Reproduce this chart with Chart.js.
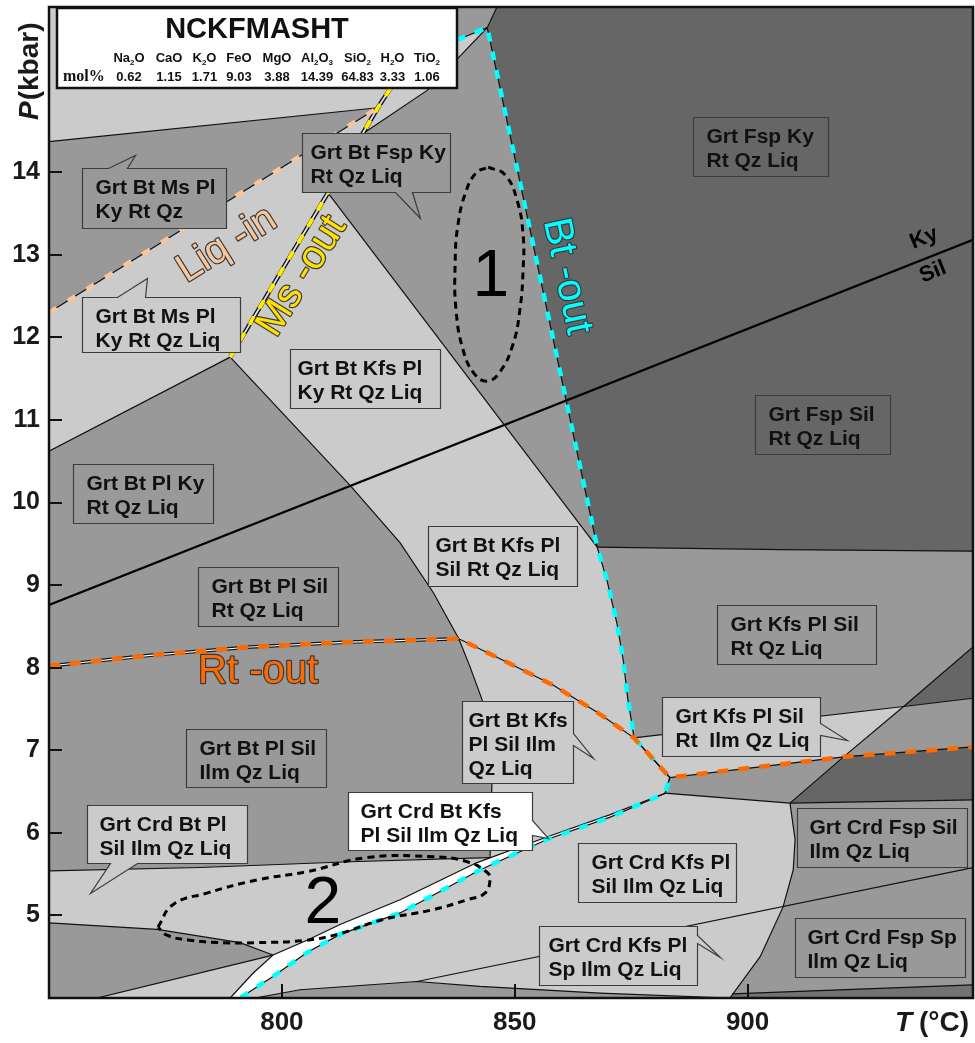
<!DOCTYPE html>
<html>
<head>
<meta charset="utf-8">
<script src="https://cdn.jsdelivr.net/npm/chart.js@4.4.0/dist/chart.umd.min.js"></script>
<style>
  html, body { margin: 0; padding: 0; background: #fff; }
  #wrap { width: 975px; height: 1043px; }
</style>
</head>
<body>
<div id="wrap"><canvas id="pt" width="975" height="1043"></canvas></div>
<script>
// axes
const tRange = [750, 948.4];
const pRange = [4, 16];
const tTicks = [800, 850, 900];
const pTicks = [5, 6, 7, 8, 9, 10, 11, 12, 13, 14];

// bulk composition, mol%
const oxides = ['Na2O', 'CaO', 'K2O', 'FeO', 'MgO', 'Al2O3', 'SiO2', 'H2O', 'TiO2'];
const molPct = ['0.62', '1.15', '1.71', '9.03', '3.88', '14.39', '64.83', '3.33', '1.06'];

// light fields, [T, P]
const fieldTopLeft = [[750, 16], [750, 14.37], [820.6, 14.78], [826.6, 15.30], [826.6, 16]];
const fieldMsLiq = [[750, 12.30], [820.6, 14.78], [809.9, 13.75], [788.9, 11.76], [750, 10.62]];
const fieldSliver = [[818.0, 14.49], [823.7, 15.02], [837.6, 15.60], [844.1, 15.75], [831.2, 14.99]];
const fieldBtKfs = [[788.9, 11.76], [809.9, 13.75], [867.7, 9.46], [869.8, 9.06], [872.0, 8.52], [873.3, 8.09],
  [874.3, 7.61], [875.2, 7.31], [875.6, 7.15], [883.3, 6.67], [882.3, 6.48], [870.5, 6.22], [856.9, 5.95],
  [844.7, 5.70], [845.1, 6.60], [844.5, 7.13], [843.0, 7.61], [840.4, 8.01], [838.0, 8.35], [832.5, 8.91],
  [825.4, 9.51], [814.6, 10.21], [800.2, 11.08]];
const fieldCrdBtPl = [[750, 5.54], [782.4, 5.58], [814.6, 5.65], [844.7, 5.70], [841.9, 5.64], [825.4, 5.19],
  [812.5, 4.89], [805.4, 4.70], [798.1, 4.52], [791.0, 4.67], [773.2, 4.83], [750, 4.91]];
const fieldLowWedge = [[760.3, 4.0], [798.1, 4.52], [793.8, 4.30], [788.9, 4.0]];
const fieldCrdKfs = [[791.0, 4.0], [798.1, 4.26], [805.4, 4.55], [812.5, 4.77], [825.4, 5.03], [842.5, 5.55],
  [856.9, 5.92], [870.5, 6.19], [882.3, 6.48], [909.1, 6.36], [910.2, 5.92], [909.8, 5.55], [907.6, 5.10],
  [902.7, 4.50], [896.2, 4.0], [868.3, 4.06], [842.5, 4.14], [829.0, 4.20], [803.9, 4.10], [794.2, 4.0]];
const fieldKfsRtIlm = [[875.6, 7.15], [933.5, 7.53], [920.6, 6.92], [883.3, 6.67]];
// narrow white field
const fieldCrdBtKfs = [[788.9, 4.0], [793.8, 4.30], [798.1, 4.52], [805.4, 4.70], [812.5, 4.89], [825.4, 5.19],
  [841.9, 5.64], [856.9, 5.95], [870.5, 6.22], [882.3, 6.48], [870.5, 6.19], [856.9, 5.92], [842.5, 5.55],
  [825.4, 5.03], [812.5, 4.77], [805.4, 4.55], [798.1, 4.26], [791.0, 4.0]];
// dark fields
const fieldFspHigh = [[844.1, 15.75], [846.2, 16], [948.4, 16], [948.4, 9.41], [907.0, 9.43], [867.7, 9.46]];
const fieldFspCorner = [[933.5, 7.53], [948.4, 8.25], [948.4, 7.63]];
const fieldFspRt = [[920.6, 6.92], [948.4, 7.04], [948.4, 6.40], [909.1, 6.36]];
const fieldBottomStrip = [[896.7, 4.05], [948.4, 4.16], [948.4, 4.0], [896.2, 4.0]];

// boundaries
const lineTopLeft = [[750, 14.37], [820.6, 14.78]];
const liqIn = [[750, 12.30], [820.6, 14.78]];
const msOut = [[788.9, 11.76], [809.9, 13.75], [820.6, 14.78], [826.6, 15.30]];
const lineJ0 = [[750, 10.62], [788.9, 11.76]];
const curveBt = [[788.9, 11.76], [800.2, 11.08], [814.6, 10.21], [825.4, 9.51], [832.5, 8.91], [838.0, 8.35],
  [840.4, 8.01], [843.0, 7.61], [844.5, 7.13], [845.1, 6.60], [844.7, 5.70]];
const lineFsp = [[809.9, 13.75], [867.7, 9.46]];
const sliverLine = [[818.0, 14.49], [831.2, 14.99], [844.1, 15.75], [846.2, 16]];
const btOut = [[837.6, 15.60], [844.1, 15.75], [867.7, 9.46], [869.8, 9.06], [872.0, 8.52], [873.3, 8.09],
  [874.3, 7.61], [875.2, 7.31], [875.6, 7.15], [883.3, 6.67], [882.3, 6.48], [870.5, 6.19], [856.9, 5.92],
  [842.5, 5.55], [825.4, 5.03], [812.5, 4.77], [805.4, 4.55], [798.1, 4.26], [791.0, 4.0]];
const kySil = [[750, 8.76], [948.4, 13.18]];
const fspFloor = [[867.7, 9.46], [907.0, 9.43], [948.4, 9.41]];
const rtOut = [[750, 8.02], [771.7, 8.15], [793.2, 8.25], [814.6, 8.31], [838.0, 8.35], [847.5, 8.09],
  [858.2, 7.79], [867.7, 7.46], [875.6, 7.15], [883.3, 6.67], [920.6, 6.92], [948.4, 7.04]];
const rtOutDouble = [[750, 8.02], [771.7, 8.15], [793.2, 8.25], [814.6, 8.31], [838.0, 8.35]];
const kfsLine = [[875.6, 7.15], [933.5, 7.53], [948.4, 7.63]];
const diagonal = [[909.1, 6.36], [920.6, 6.92], [933.5, 7.53], [948.4, 8.25]];
const crdLine = [[883.3, 6.67], [882.3, 6.48], [909.1, 6.36], [948.4, 6.40]];
const crdCurve = [[909.1, 6.36], [910.2, 5.92], [909.8, 5.55], [907.6, 5.10], [902.7, 4.50], [896.2, 4.0]];
const spLine = [[829.0, 4.20], [948.4, 5.58]];
const bottomStrip = [[794.2, 4.0], [803.9, 4.10], [829.0, 4.20], [842.5, 4.14], [868.3, 4.06], [896.2, 4.0]];
const bottomStripRight = [[896.7, 4.05], [948.4, 4.16]];
const whiteUpper = [[788.9, 4.0], [793.8, 4.30], [798.1, 4.52], [805.4, 4.70], [812.5, 4.89], [825.4, 5.19],
  [841.9, 5.64], [856.9, 5.95], [870.5, 6.22], [882.3, 6.48]];
const bandTop = [[750, 5.54], [782.4, 5.58], [814.6, 5.65], [844.7, 5.70]];
const bandBottom = [[750, 4.91], [773.2, 4.83], [791.0, 4.67], [798.1, 4.52]];
const lowLine = [[760.3, 4.0], [798.1, 4.52]];

// dashed ellipses
const ellipse1 = [[844.3, 14.06], [847.9, 13.97], [850.5, 13.66], [851.8, 13.24], [851.8, 12.82], [851.1, 12.33],
  [849.6, 11.91], [846.8, 11.58], [844.1, 11.47], [841.3, 11.56], [838.9, 11.85], [837.4, 12.33], [837.2, 12.88],
  [837.8, 13.36], [839.5, 13.76], [841.7, 13.99], [844.3, 14.06]];
const ellipse2 = [[773.4, 4.86], [776.6, 5.13], [783.9, 5.27], [794.7, 5.43], [805.4, 5.53], [818.3, 5.70],
  [832.5, 5.71], [839.8, 5.65], [844.1, 5.52], [844.7, 5.43], [843.6, 5.27], [839.8, 5.19], [832.5, 5.07],
  [821.7, 4.95], [812.5, 4.78], [805.4, 4.70], [794.7, 4.67], [787.4, 4.67], [780.3, 4.70], [775.3, 4.76],
  [773.4, 4.86]];

const LIGHT = '#cbcbcb', MID = '#999999', DARK = '#666666', WHITE = '#ffffff';
const FONT = '"Liberation Sans", Arial, sans-serif';

const fieldBoxes = [
  {t: 757.1, p: 14.05, w: 144, h: 60, c: MID, lines: ['Grt Bt Ms Pl', 'Ky Rt Qz'], tail: ['top', 26, 45, 53, -13]},
  {t: 757.1, p: 12.49, w: 158, h: 55, c: LIGHT, lines: ['Grt Bt Ms Pl', 'Ky Rt Qz Liq'], tail: ['top', 35, 63, 65, -19]},
  {t: 804.3, p: 14.47, w: 148, h: 59, c: MID, pad: 8, lines: ['Grt Bt Fsp Ky', 'Rt Qz Liq'], tail: ['bottom', 93, 110, 118, 85]},
  {t: 888.3, p: 14.67, w: 135, h: 59, c: DARK, lines: ['Grt Fsp Ky', 'Rt Qz Liq']},
  {t: 801.7, p: 11.86, w: 150, h: 59, c: LIGHT, pad: 7, lines: ['Grt Bt Kfs Pl', 'Ky Rt Qz Liq']},
  {t: 755.2, p: 10.47, w: 140, h: 59, c: MID, lines: ['Grt Bt Pl Ky', 'Rt Qz Liq']},
  {t: 901.6, p: 11.30, w: 135, h: 59, c: DARK, lines: ['Grt Fsp Sil', 'Rt Qz Liq']},
  {t: 831.4, p: 9.72, w: 149, h: 60, c: LIGHT, pad: 7, lines: ['Grt Bt Kfs Pl', 'Sil Rt Qz Liq']},
  {t: 782.0, p: 9.22, w: 140, h: 59, c: MID, lines: ['Grt Bt Pl Sil', 'Rt Qz Liq']},
  {t: 893.4, p: 8.76, w: 159, h: 59, c: MID, lines: ['Grt Kfs Pl Sil', 'Rt Qz Liq']},
  {t: 779.4, p: 7.26, w: 140, h: 58, c: MID, lines: ['Grt Bt Pl Sil', 'Ilm Qz Liq']},
  {t: 838.7, p: 7.60, w: 111, h: 82, c: LIGHT, pad: 6, lines: ['Grt Bt Kfs', 'Pl Sil Ilm', 'Qz Liq'], tail: ['right', 32, 44, 131, 57]},
  {t: 881.6, p: 7.65, w: 158, h: 59, c: LIGHT, lines: ['Grt Kfs Pl Sil', 'Rt  Ilm Qz Liq'], tail: ['right', 26, 38, 185, 43]},
  {t: 814.2, p: 6.50, w: 184, h: 58, c: WHITE, pad: 12, lines: ['Grt Crd Bt Kfs', 'Pl Sil Ilm Qz Liq'], tail: ['right', 28, 43, 200, 46]},
  {t: 758.2, p: 6.34, w: 160, h: 58, c: LIGHT, pad: 12, lines: ['Grt Crd Bt Pl', 'Sil Ilm Qz Liq'], tail: ['bottom', 23, 50, 3, 88]},
  {t: 863.6, p: 5.88, w: 158, h: 59, c: LIGHT, lines: ['Grt Crd Kfs Pl', 'Sil Ilm Qz Liq']},
  {t: 855.2, p: 4.87, w: 158, h: 59, c: LIGHT, pad: 9, lines: ['Grt Crd Kfs Pl', 'Sp Ilm Qz Liq'], tail: ['right', 9, 17, 181, 31]},
  {t: 910.6, p: 6.30, w: 170, h: 59, c: MID, pad: 12, lines: ['Grt Crd Fsp Sil', 'Ilm Qz Liq']},
  {t: 910.2, p: 4.97, w: 170, h: 59, c: MID, pad: 12, lines: ['Grt Crd Fsp Sp', 'Ilm Qz Liq']}
];

const curveTags = [
  {t: 788.2, p: 13.12, text: 'Liq -in', color: '#f9c69b', rot: -32, size: 40},
  {t: 804.3, p: 12.74, text: 'Ms -out', color: '#ffe000', rot: -58, size: 40},
  {t: 861.2, p: 12.74, text: 'Bt -out', color: '#00ffff', rot: 78, size: 40},
  {t: 794.9, p: 7.95, text: 'Rt -out', color: '#ff6a00', rot: 0, size: 40}
];
const plainTags = [
  {t: 844.9, p: 12.72, text: '1', size: 66, weight: 'normal', rot: 0},
  {t: 808.8, p: 5.13, text: '2', size: 66, weight: 'normal', rot: 0},
  {t: 937.9, p: 13.20, text: 'Ky', size: 22, weight: 'bold', rot: -22},
  {t: 939.8, p: 12.79, text: 'Sil', size: 22, weight: 'bold', rot: -22}
];

const pts = a => a.map(([x, y]) => ({x, y}));
function area(a, color) {
  return {data: pts(a.concat([a[0]])), showLine: true, fill: 'shape', backgroundColor: color,
    borderColor: 'rgba(0,0,0,0)', borderWidth: 0, pointRadius: 0, tension: 0, order: 9};
}
function edge(a, color, width, order, dash, tension) {
  return {data: pts(a), showLine: true, fill: false, borderColor: color, borderWidth: width,
    borderDash: dash || [], pointRadius: 0, tension: tension || 0, order: order};
}

const datasets = [
  area(fieldTopLeft, LIGHT), area(fieldMsLiq, LIGHT), area(fieldSliver, LIGHT), area(fieldBtKfs, LIGHT),
  area(fieldCrdBtPl, LIGHT), area(fieldLowWedge, LIGHT), area(fieldCrdKfs, LIGHT), area(fieldKfsRtIlm, LIGHT),
  area(fieldCrdBtKfs, WHITE),
  area(fieldFspHigh, DARK), area(fieldFspCorner, DARK), area(fieldFspRt, DARK), area(fieldBottomStrip, '#737373')
];
[lineTopLeft, liqIn, lineJ0, curveBt, lineFsp, sliverLine, btOut, fspFloor, rtOut, kfsLine, diagonal,
  crdLine, crdCurve, spLine, bottomStrip, bottomStripRight, whiteUpper, bandTop, bandBottom, lowLine]
  .forEach(l => datasets.push(edge(l, '#111', 1.2, 7)));
datasets.push(edge(kySil, '#000', 2.2, 7));
datasets.push(edge(msOut, '#111', 4.5, 6));
datasets.push(edge(msOut, '#e2e2e2', 1.8, 5));
datasets.push(edge(rtOutDouble, '#111', 3.6, 6));
datasets.push(edge(rtOutDouble, '#ffffff', 1.2, 5));
datasets.push(edge(liqIn, '#f9c69b', 4.5, 3, [9, 13]));
datasets.push(edge(msOut, '#ffee00', 4, 3, [9, 10]));
datasets.push(edge(rtOut, '#ff6a00', 4.5, 3, [11, 10]));
datasets.push(edge(btOut, '#00ffff', 4.5, 3, [9, 10]));
datasets.push(edge(ellipse1, '#000', 3, 2, [7, 5], 0.45));
datasets.push(edge(ellipse2, '#000', 3, 2, [7, 5], 0.45));

// medium gray under everything
const backdrop = {
  id: 'backdrop',
  beforeDatasetsDraw(chart) {
    const {ctx, chartArea: a} = chart;
    ctx.save();
    ctx.fillStyle = MID;
    ctx.fillRect(a.left, a.top, a.width, a.height);
    ctx.restore();
  }
};

function drawFormula(ctx, s, cx, y) {
  const runs = s.match(/[A-Za-z]+|\d+/g);
  const big = 'bold 13px ' + FONT, small = 'bold 8px ' + FONT;
  let w = 0;
  runs.forEach(r => { ctx.font = /\d/.test(r) ? small : big; w += ctx.measureText(r).width; });
  let x = cx - w / 2;
  ctx.textAlign = 'left';
  runs.forEach(r => {
    const sub = /\d/.test(r);
    ctx.font = sub ? small : big;
    ctx.fillText(r, x, sub ? y + 3 : y);
    x += ctx.measureText(r).width;
  });
}

const annotate = {
  id: 'annotate',
  afterDatasetsDraw(chart) {
    const {ctx, chartArea: a, scales: {x, y}} = chart;
    ctx.save();

    // curve names
    curveTags.forEach(g => {
      ctx.save();
      ctx.translate(x.getPixelForValue(g.t), y.getPixelForValue(g.p));
      ctx.rotate(g.rot * Math.PI / 180);
      ctx.font = g.size + 'px ' + FONT;
      ctx.textAlign = 'center';
      ctx.textBaseline = 'middle';
      ctx.lineJoin = 'round';
      ctx.lineWidth = 2.4;
      ctx.strokeStyle = '#3a3a3a';
      ctx.strokeText(g.text, 0, 0);
      ctx.fillStyle = g.color;
      ctx.fillText(g.text, 0, 0);
      ctx.restore();
    });
    plainTags.forEach(g => {
      ctx.save();
      ctx.translate(x.getPixelForValue(g.t), y.getPixelForValue(g.p));
      ctx.rotate(g.rot * Math.PI / 180);
      ctx.font = g.weight + ' ' + g.size + 'px ' + FONT;
      ctx.textAlign = 'center';
      ctx.textBaseline = 'middle';
      ctx.fillStyle = '#000';
      ctx.fillText(g.text, 0, 0);
      ctx.restore();
    });

    // field labels with callout tails
    fieldBoxes.forEach(b => {
      const bx = Math.round(x.getPixelForValue(b.t)) + 0.5;
      const by = Math.round(y.getPixelForValue(b.p)) + 0.5;
      const {w, h} = b;
      const tl = b.tail;
      ctx.beginPath();
      ctx.moveTo(bx, by);
      if (tl && tl[0] === 'top') {
        ctx.lineTo(bx + tl[1], by); ctx.lineTo(bx + tl[3], by + tl[4]); ctx.lineTo(bx + tl[2], by);
      }
      ctx.lineTo(bx + w, by);
      if (tl && tl[0] === 'right') {
        ctx.lineTo(bx + w, by + tl[1]); ctx.lineTo(bx + tl[3], by + tl[4]); ctx.lineTo(bx + w, by + tl[2]);
      }
      ctx.lineTo(bx + w, by + h);
      if (tl && tl[0] === 'bottom') {
        ctx.lineTo(bx + tl[2], by + h); ctx.lineTo(bx + tl[3], by + tl[4]); ctx.lineTo(bx + tl[1], by + h);
      }
      ctx.lineTo(bx, by + h);
      ctx.closePath();
      ctx.fillStyle = b.c;
      ctx.fill();
      ctx.lineWidth = 1.2;
      ctx.strokeStyle = '#3c3c3c';
      ctx.stroke();
      ctx.fillStyle = '#111';
      ctx.font = 'bold 21px ' + FONT;
      ctx.textAlign = 'left';
      ctx.textBaseline = 'alphabetic';
      b.lines.forEach((s, i) => ctx.fillText(s, bx + (b.pad || 13), by + 25 + i * 24));
    });

    // composition box
    const lx = a.left + 8, ly = a.top + 1;
    ctx.fillStyle = '#fff';
    ctx.fillRect(lx, ly, 400, 80);
    ctx.lineWidth = 2.5;
    ctx.strokeStyle = '#111';
    ctx.strokeRect(lx, ly, 400, 80);
    ctx.fillStyle = '#111';
    ctx.textBaseline = 'alphabetic';
    ctx.textAlign = 'center';
    ctx.font = 'bold 29px ' + FONT;
    ctx.fillText('NCKFMASHT', lx + 200, ly + 30);
    const cols = [72, 112, 147.5, 182, 220, 260, 300.5, 335.5, 370];
    oxides.forEach((o, i) => drawFormula(ctx, o, lx + cols[i], ly + 54));
    ctx.textAlign = 'center';
    ctx.font = 'bold 13px ' + FONT;
    molPct.forEach((v, i) => ctx.fillText(v, lx + cols[i], ly + 73));
    ctx.textAlign = 'left';
    ctx.font = 'bold 16px "Liberation Serif", "Times New Roman", serif';
    ctx.fillText('mol%', lx + 6, ly + 73);

    // frame and inward ticks
    ctx.lineWidth = 2.5;
    ctx.strokeStyle = '#111';
    ctx.strokeRect(a.left, a.top, a.width, a.height);
    ctx.lineWidth = 2;
    ctx.beginPath();
    pTicks.forEach(v => {
      const py = Math.round(y.getPixelForValue(v));
      ctx.moveTo(a.left, py); ctx.lineTo(a.left + 13, py);
    });
    tTicks.forEach(v => {
      const px = Math.round(x.getPixelForValue(v));
      ctx.moveTo(px, a.bottom); ctx.lineTo(px, a.bottom - 14);
    });
    ctx.stroke();

    // axis titles
    ctx.fillStyle = '#1a1a1a';
    ctx.save();
    ctx.translate(a.left - 11, a.top + 113);
    ctx.rotate(-Math.PI / 2);
    ctx.textAlign = 'left';
    ctx.font = 'italic bold 28px ' + FONT;
    ctx.fillText('P', 0, 0);
    const pw = ctx.measureText('P').width;
    ctx.font = 'bold 28px ' + FONT;
    ctx.fillText('(kbar)', pw + 1, 0);
    ctx.restore();

    ctx.textAlign = 'left';
    ctx.font = 'italic bold 28px ' + FONT;
    ctx.fillText('T', a.right - 78, a.bottom + 33);
    ctx.font = 'bold 28px ' + FONT;
    ctx.fillText('(\u00B0C)', a.right - 54, a.bottom + 33);
    ctx.restore();
  }
};

function noPad(s) { s.paddingTop = 0; s.paddingBottom = 0; s.paddingLeft = 0; s.paddingRight = 0; }

new Chart(document.getElementById('pt'), {
  type: 'scatter',
  data: {datasets: datasets},
  options: {
    responsive: false,
    animation: false,
    events: [],
    layout: {padding: {top: 7, right: 2, left: 0, bottom: 0}},
    plugins: {legend: {display: false}, tooltip: {enabled: false}},
    scales: {
      x: {
        type: 'linear', min: tRange[0], max: tRange[1],
        grid: {display: false, drawTicks: false}, border: {display: false},
        afterBuildTicks: s => { s.ticks = tTicks.map(v => ({value: v})); },
        afterFit: s => { s.height = 45; noPad(s); },
        ticks: {font: {family: FONT, size: 26, weight: 'bold'}, color: '#1a1a1a', padding: 9, maxRotation: 0, autoSkip: false}
      },
      y: {
        type: 'linear', min: pRange[0], max: pRange[1],
        grid: {display: false, drawTicks: false}, border: {display: false},
        afterBuildTicks: s => { s.ticks = pTicks.map(v => ({value: v})); },
        afterFit: s => { s.width = 49; noPad(s); },
        ticks: {font: {family: FONT, size: 25, weight: 'bold'}, color: '#1a1a1a', padding: 9, autoSkip: false}
      }
    }
  },
  plugins: [backdrop, annotate]
});
</script>
</body>
</html>
